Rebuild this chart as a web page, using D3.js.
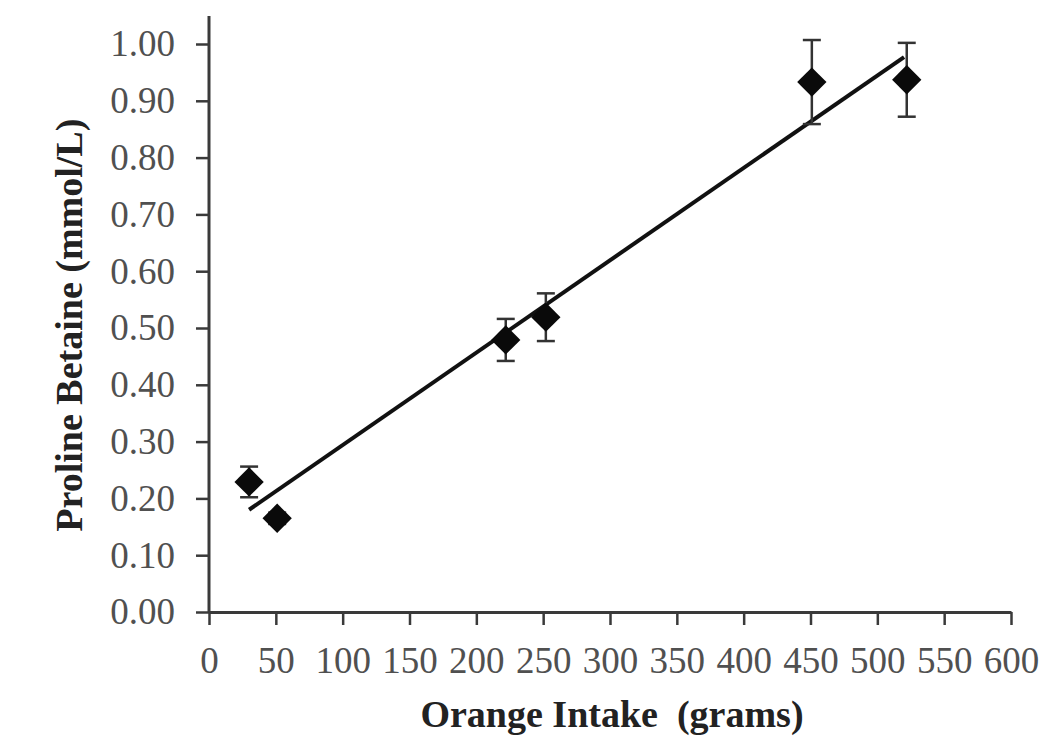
<!DOCTYPE html>
<html>
<head>
<meta charset="utf-8">
<script src="https://cdn.jsdelivr.net/npm/d3@7"></script>
<style>
  body { margin: 0; background: #fff; }
  svg { display: block; }
</style>
</head>
<body>
<div id="chart"></div>
<script>
const intake = [30, 51, 222, 252, 451, 522];
const proline = [0.229, 0.165, 0.479, 0.519, 0.933, 0.937];
const stdErr = [0.027, 0.01, 0.037, 0.042, 0.074, 0.065];
const trendX = [30, 520];
const trendY = [0.18, 0.977];
const xTicks = [0, 50, 100, 150, 200, 250, 300, 350, 400, 450, 500, 550, 600];
const yTicks = [0, 0.1, 0.2, 0.3, 0.4, 0.5, 0.6, 0.7, 0.8, 0.9, 1.0];

const width = 1051;
const height = 744;
const margin = { top: 44, right: 40, bottom: 132, left: 209 };
const innerWidth = width - margin.left - margin.right;
const innerHeight = height - margin.top - margin.bottom;

const svg = d3.select('#chart')
  .append('svg')
  .attr('width', width)
  .attr('height', height);

const x = d3.scaleLinear().domain([0, 600]).range([0, innerWidth]);
const y = d3.scaleLinear().domain([0, 1]).range([innerHeight, 0]);

const g = svg.append('g').attr('transform', `translate(${margin.left}, ${margin.top})`);

const axisColor = '#3a3a3a';
const labelColor = '#505050';
const serif = '"Liberation Serif", "Times New Roman", serif';

// x axis
const xAxis = g.append('g')
  .attr('transform', `translate(0, ${innerHeight})`)
  .call(d3.axisBottom(x).tickValues(xTicks).tickSize(13).tickSizeOuter(0).tickPadding(22).tickFormat(d3.format('d')));
xAxis.select('.domain').attr('stroke', axisColor).attr('stroke-width', 3);
xAxis.selectAll('.tick line').attr('stroke', axisColor).attr('stroke-width', 2.5);
xAxis.selectAll('text')
  .attr('font-family', serif)
  .attr('font-size', 37)
  .attr('fill', labelColor);

// y axis
const yAxis = g.append('g')
  .call(d3.axisLeft(y).tickValues(yTicks).tickSize(13).tickSizeOuter(0).tickPadding(21).tickFormat(d3.format('.2f')));
yAxis.select('.domain').remove();
yAxis.append('line')
  .attr('x1', 0).attr('x2', 0)
  .attr('y1', y(0)).attr('y2', -28)
  .attr('stroke', axisColor).attr('stroke-width', 3);
yAxis.selectAll('.tick line').attr('stroke', axisColor).attr('stroke-width', 2.5);
yAxis.selectAll('text')
  .attr('font-family', serif)
  .attr('font-size', 37)
  .attr('fill', labelColor);

// trend line
g.append('line')
  .attr('x1', x(trendX[0])).attr('y1', y(trendY[0]))
  .attr('x2', x(trendX[1])).attr('y2', y(trendY[1]))
  .attr('stroke', '#111')
  .attr('stroke-width', 4);

const points = intake.map((v, i) => ({ x: v, y: proline[i], e: stdErr[i] }));

// error bars
const err = g.append('g').attr('stroke', '#333').attr('stroke-width', 2.5);
err.selectAll('line.v')
  .data(points)
  .join('line')
  .attr('class', 'v')
  .attr('x1', (d) => x(d.x)).attr('x2', (d) => x(d.x))
  .attr('y1', (d) => y(d.y - d.e)).attr('y2', (d) => y(d.y + d.e));
err.selectAll('line.top')
  .data(points)
  .join('line')
  .attr('class', 'top')
  .attr('x1', (d) => x(d.x) - 9).attr('x2', (d) => x(d.x) + 9)
  .attr('y1', (d) => y(d.y + d.e)).attr('y2', (d) => y(d.y + d.e));
err.selectAll('line.bot')
  .data(points)
  .join('line')
  .attr('class', 'bot')
  .attr('x1', (d) => x(d.x) - 9).attr('x2', (d) => x(d.x) + 9)
  .attr('y1', (d) => y(d.y - d.e)).attr('y2', (d) => y(d.y - d.e));

// diamonds
g.selectAll('path.pt')
  .data(points)
  .join('path')
  .attr('class', 'pt')
  .attr('d', d3.symbol(d3.symbolSquare, 430))
  .attr('transform', (d) => `translate(${x(d.x)}, ${y(d.y)}) rotate(45)`)
  .attr('fill', '#0a0a0a');

// axis titles
svg.append('text')
  .attr('x', margin.left + x(300) + 2)
  .attr('y', 727)
  .attr('text-anchor', 'middle')
  .attr('font-family', serif)
  .attr('font-weight', 'bold')
  .attr('font-size', 38)
  .attr('fill', '#222')
  .style('white-space', 'pre')
  .text('Orange Intake  (grams)');

svg.append('text')
  .attr('transform', `translate(82, ${margin.top + y(0.505)}) rotate(-90)`)
  .attr('text-anchor', 'middle')
  .attr('font-family', serif)
  .attr('font-weight', 'bold')
  .attr('font-size', 38)
  .attr('fill', '#222')
  .text('Proline Betaine (mmol/L)');
</script>
</body>
</html>
